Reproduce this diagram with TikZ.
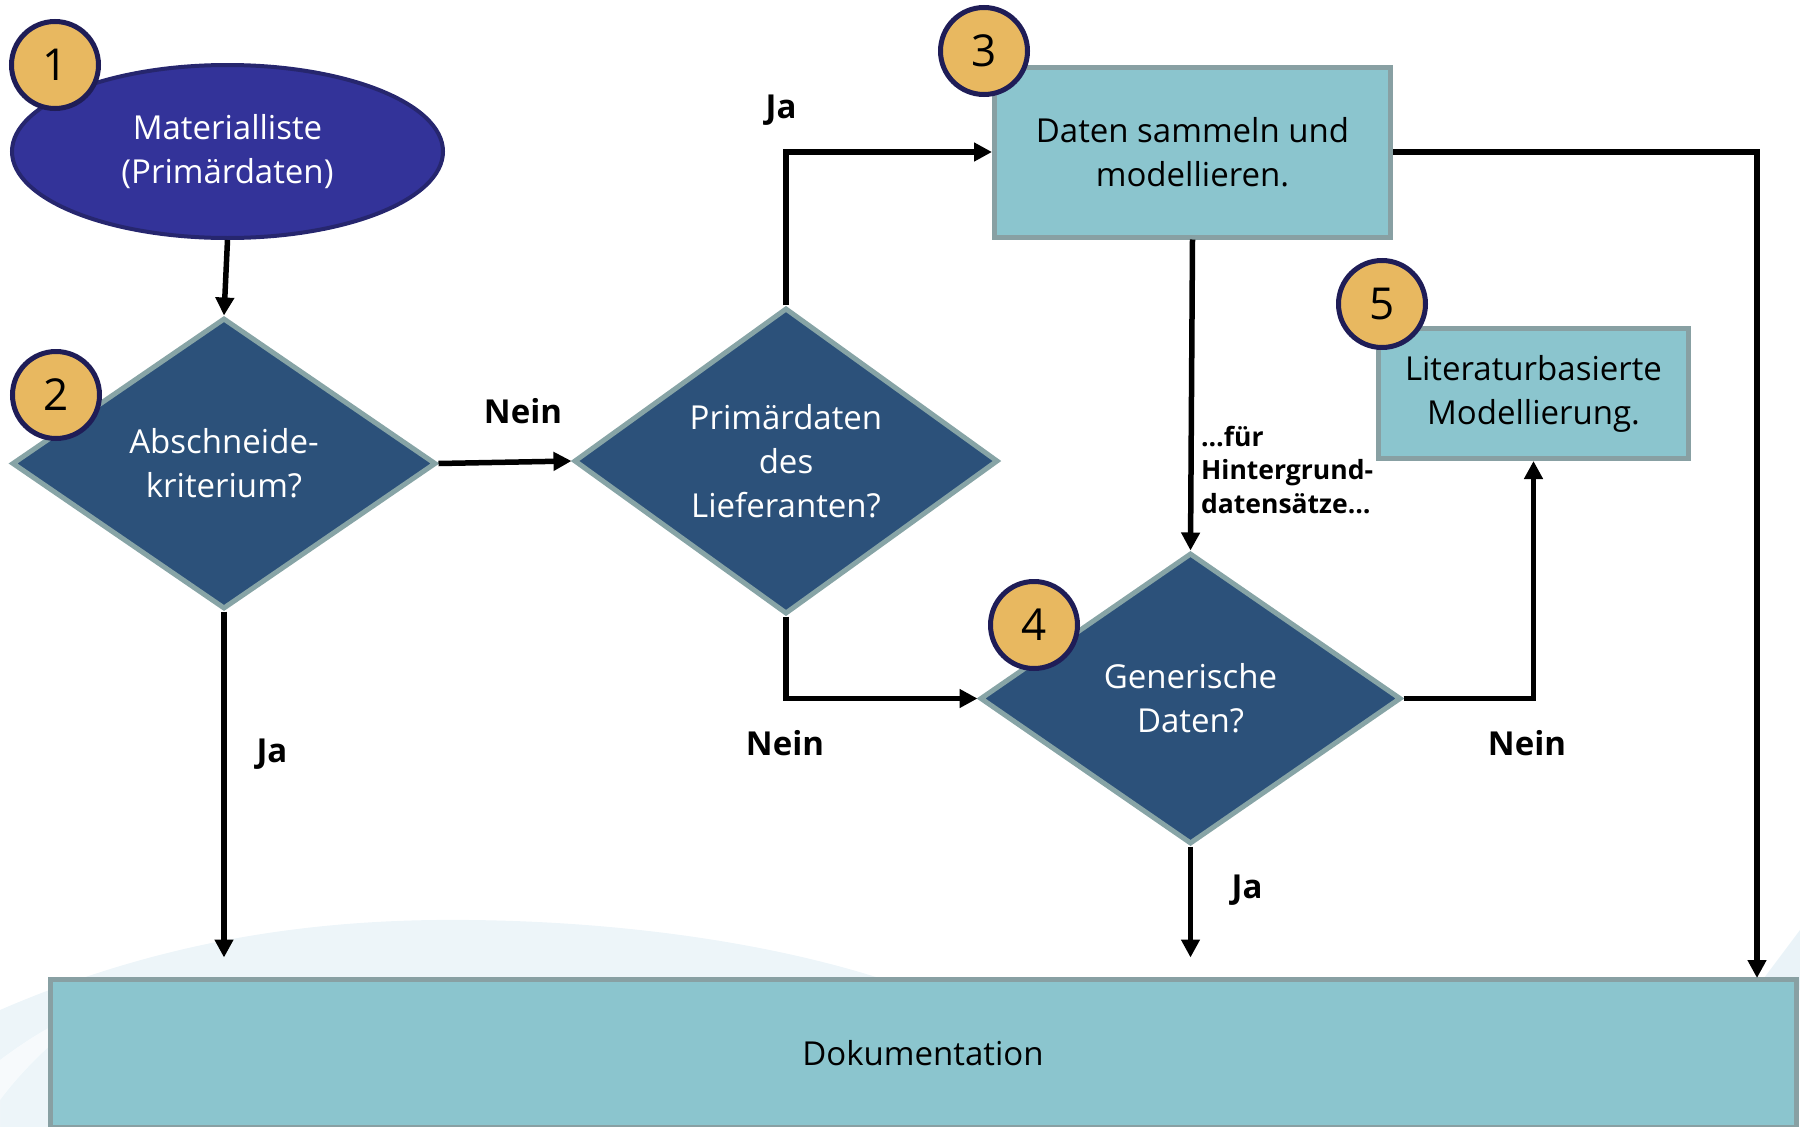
\documentclass[tikz,border=0pt]{standalone}
\usepackage{fontspec}
\setmainfont{Open Sans}
\usetikzlibrary{arrows.meta,shapes.geometric,calc}

\definecolor{startfill}{RGB}{51,51,153}
\definecolor{startline}{RGB}{38,38,110}
\definecolor{badgefill}{RGB}{232,184,96}
\definecolor{badgeline}{RGB}{31,29,87}
\definecolor{decfill}{RGB}{44,81,122}
\definecolor{decline}{RGB}{135,164,166}
\definecolor{procfill}{RGB}{139,197,206}
\definecolor{procline}{RGB}{136,160,163}
\definecolor{swoosh}{RGB}{214,232,242}

\tikzset{
  shapetext/.style={font=\fontsize{33}{44}\selectfont, align=center, inner sep=0pt},
  startshape/.style={shapetext, ellipse, fill=startfill, draw=startline, line width=4pt,
    text=white, minimum width=431pt, minimum height=173pt},
  decision/.style={shapetext, diamond, fill=decfill, draw=decline, line width=5pt,
    text=white, minimum width=424pt, minimum height=291pt},
  process/.style={shapetext, rectangle, fill=procfill, draw=procline, line width=5pt,
    text=black},
  badge/.style={circle, fill=badgefill, draw=badgeline, line width=5pt,
    minimum size=87pt, inner sep=0pt, font=\fontsize{44}{44}\selectfont},
  flow/.style={line width=5.5pt, -{Triangle[length=18pt,width=18pt]}},
  answer/.style={font=\bfseries\fontsize{33}{40}\selectfont, inner sep=0pt},
  remark/.style={font=\bfseries\fontsize{26.5}{33.5}\selectfont, align=left, inner sep=0pt}
}

\begin{document}
\begin{tikzpicture}[x=1pt, y=-1pt]
  \useasboundingbox (0,0) rectangle (1800,1127);

  % faint decorative background arcs
  \fill[swoosh, opacity=0.45] (0,1127) -- (0,1010)
    .. controls (150,945) and (300,918) .. (470,920)
    .. controls (650,922) and (800,950) .. (900,985) -- (900,1127) -- cycle;
  \fill[white, opacity=0.6] (0,1127) -- (0,1060)
    .. controls (40,1030) and (70,1015) .. (110,1000)
    .. controls (70,1025) and (30,1060) .. (0,1100) -- cycle;
  \fill[swoosh, opacity=0.5] (1800,930) -- (1800,990) -- (1755,990) -- cycle;

  % shapes
  \node[startshape] (mat) at (227.5,151.5) {Materialliste\\(Primärdaten)};
  \node[decision] (cut) at (224,463.5) {Abschneide-\\kriterium?};
  \node[decision] (sup) at (786,461) {Primärdaten\\des\\Lieferanten?};
  \node[process, minimum width=396pt, minimum height=170pt] (coll) at (1192.5,152)
    {Daten sammeln und\\modellieren.};
  \node[decision, minimum width=421pt] (gen) at (1190.5,698.5) {Generische\\Daten?};
  \node[process, minimum width=310pt, minimum height=130pt] (lit) at (1533.5,393.5)
    {Literaturbasierte\\Modellierung.};
  \node[process, minimum width=1746pt, minimum height=148pt] (doc) at (923,1053)
    {Dokumentation};

  % numbered badges
  \node[badge] (n1) at (55,65) {1};
  \node[badge] (n2) at (56,395) {2};
  \node[badge] (n3) at (984,51) {3};
  \node[badge] (n4) at (1034,625) {4};
  \node[badge] (n5) at (1382,304) {5};

  % connectors
  \coordinate (docR) at (1757,978);
  \draw[flow] (mat.south) -- (cut.north);
  \draw[flow] (cut.east) -- (sup.west);
  \draw[flow] (sup.north) |- (coll.west);
  \draw[flow] (sup.south) |- (gen.west);
  \draw[flow] (coll.south) -- (gen.north);
  \draw[flow] (gen.east) -| (lit.south);
  \draw[flow, shorten >=19pt] (gen.south) -- (gen.south |- doc.north);
  \draw[flow, shorten >=19pt] (cut.south) -- (cut.south |- doc.north);
  \draw[flow] (coll.east) -| (docR);

  % answers on the connectors
  \node[answer] (l1) at (523,411) {Nein};
  \node[answer] (l2) at (781,110) {Ja};
  \node[answer] (l3) at (785,743) {Nein};
  \node[answer] (l4) at (1527,743) {Nein};
  \node[answer] (l5) at (1247,890) {Ja};
  \node[answer] (l6) at (272,754) {Ja};
  \node[remark, anchor=west] (l7) at (1201,470) {…für\\Hintergrund-\\datensätze…};
\end{tikzpicture}
\end{document}
